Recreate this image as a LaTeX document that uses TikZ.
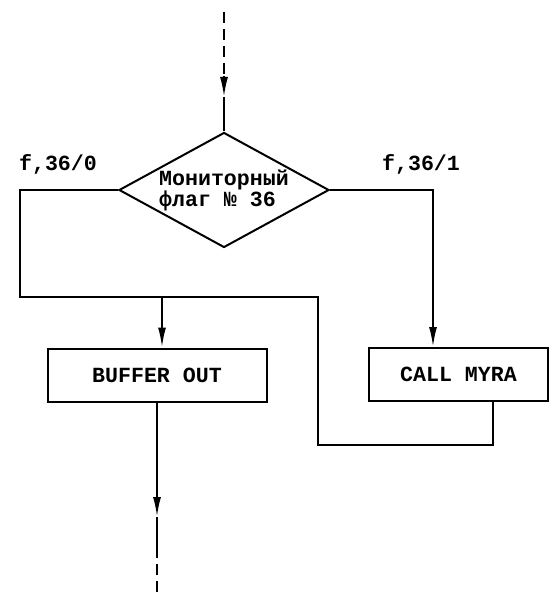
\documentclass[tikz,border=0pt]{standalone}
\usepackage{fontspec}
\setmonofont{Liberation Mono}
\usepackage{tikz}
\usetikzlibrary{positioning,arrows.meta,shapes.geometric}

\begin{document}
\begin{tikzpicture}[x=0.5pt,y=-0.5pt,line width=1pt,
    every node/.style={font=\ttfamily\bfseries\fontsize{10.8}{10.5}\selectfont},
    opbox/.style={draw,rectangle,minimum width=109.5pt,minimum height=26.5pt,inner sep=0pt},
    cond/.style={draw,diamond,shape aspect=1.81,inner sep=0pt,align=left,
                 minimum width=105pt,minimum height=57.5pt},
    branchlabel/.style={inner sep=0pt},
    arrowln/.style={-{Latex[length=10pt,width=4pt]}},
    dashln/.style={dash pattern=on 5.5pt off 3pt}]
  \useasboundingbox (0,0) rectangle (550,598);

  \node[cond] (flag) at (224,190) {Мониторный\\флаг № 36};
  \node[opbox] (buf) at (157,375) {BUFFER OUT};
  \node[opbox,minimum width=89.5pt] (call) at (458.5,374.5) {CALL MYRA};
  \node[branchlabel] (lab0) at (58,164) {f,36/0};
  \node[branchlabel] (lab1) at (421,164) {f,36/1};

  % entry from above
  \coordinate (start) at (224,12);
  \coordinate (startB) at (224,76);
  \coordinate (tipA) at (224,97);
  \draw[dashln] (start) -- (startB);
  \draw[arrowln] (startB) -- (tipA);
  \draw (tipA) -- (flag.north);

  % f,36/1
  \coordinate (rc) at (433,190);
  \draw[arrowln] (flag.east) -- (rc) -- (rc |- call.north);

  % f,36/0 and return from CALL MYRA
  \coordinate (jl) at (20,297);
  \coordinate (jb) at (162,297);
  \coordinate (jr) at (318,297);
  \coordinate (jd) at (318,445);
  \coordinate (jc) at (493,445);
  \draw (flag.west) -| (jl) -- (jr) -- (jd) -- (jc) -- (jc |- call.south);
  \draw[arrowln] (jb) -- (jb |- buf.north);

  % exit below
  \coordinate (tipB) at (157,517);
  \coordinate (endA) at (157,547);
  \coordinate (finish) at (157,598);
  \draw[arrowln] (buf.south) -- (tipB);
  \draw (tipB) -- (endA);
  \draw[dashln] (endA) -- (finish);
\end{tikzpicture}
\end{document}
